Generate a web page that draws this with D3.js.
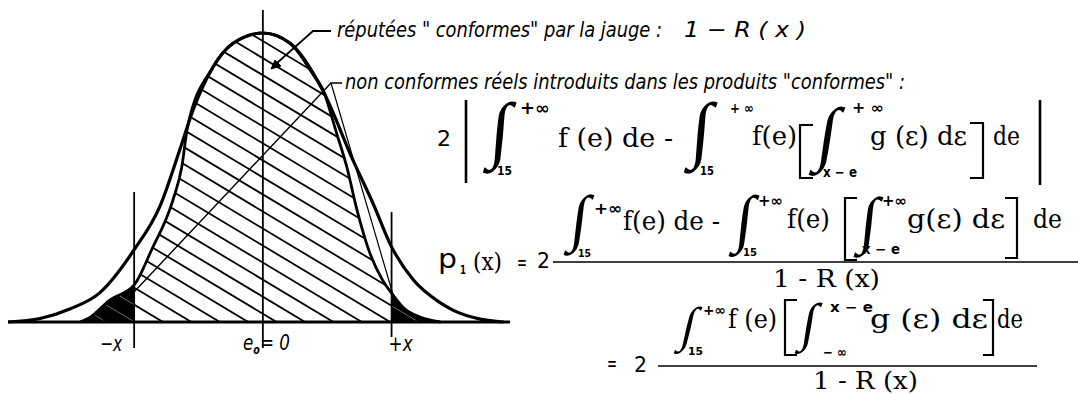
<!DOCTYPE html>
<html>
<head>
<meta charset="utf-8">
<script src="https://cdn.jsdelivr.net/npm/d3@7"></script>
<style>
  html, body { margin: 0; padding: 0; background: #fff; }
  svg { display: block; }
</style>
</head>
<body>
<svg id="fig" width="1078" height="394"></svg>
<script>
// Distribution of all parts f(e): error e (in units of the gauge limit x) and relative density
const outerE = [-1.98, -1.73, -1.5, -1.27, -1.0, -0.8, -0.646, -0.545, -0.39, -0.23, 0, 0.21, 0.467, 0.70, 0.856, 1.0, 1.17, 1.38, 1.48, 1.69, 1.87];
const outerF = [0, 0.012, 0.045, 0.10, 0.25, 0.40, 0.595, 0.73, 0.88, 0.965, 1.0, 0.965, 0.80, 0.56, 0.41, 0.26, 0.145, 0.066, 0.04, 0.01, 0];

// Parts declared "conformes" by the gauge
const innerE = [-1.42, -1.35, -1.19, -1.0, -0.864, -0.70, -0.63, -0.585, -0.39, -0.23, 0, 0.21, 0.40, 0.46, 0.575, 0.65, 0.73, 0.83, 0.93, 1.0, 1.09, 1.22, 1.38];
const innerF = [0, 0.014, 0.076, 0.128, 0.25, 0.42, 0.536, 0.675, 0.88, 0.965, 1.0, 0.965, 0.85, 0.81, 0.65, 0.54, 0.39, 0.24, 0.145, 0.10, 0.05, 0.017, 0];

// Gauge limits and centre
const limits = [-1, 0, 1];
const limitLabels = ["−x", "e", "+x"];

const svg = d3.select("#fig");
const defs = svg.append("defs");

const x = d3.scaleLinear().domain([-1.98, 1.92]).range([8, 510]);
const y = d3.scaleLinear().domain([0, 1]).range([322, 33]);

const outer = outerE.map((e, i) => ({ e, f: outerF[i] }));
const inner = innerE.map((e, i) => ({ e, f: innerF[i] }));

const line = d3.line().x(d => x(d.e)).y(d => y(d.f)).curve(d3.curveMonotoneX);
const area = d3.area().x(d => x(d.e)).y0(y(0)).y1(d => y(d.f)).curve(d3.curveMonotoneX);

// clip regions
defs.append("clipPath").attr("id", "acc").append("path").attr("d", area(inner));
defs.append("clipPath").attr("id", "mid").append("rect")
  .attr("x", x(-1)).attr("y", 0).attr("width", x(1) - x(-1)).attr("height", 400);
const tails = defs.append("clipPath").attr("id", "tails");
tails.append("rect").attr("x", 0).attr("y", 0).attr("width", x(-1)).attr("height", 400);
tails.append("rect").attr("x", x(1)).attr("y", 0).attr("width", 600).attr("height", 400);

// hatch line generator (slope ~0.6, spacing along the baseline)
function hatch(g, stroke, width, opacity) {
  for (let k = -20; k <= 30; k++) {
    const xb = 163 + 28.4 * k;
    g.append("line")
      .attr("x1", xb - 500).attr("y1", y(0) - 300)
      .attr("x2", xb + 100).attr("y2", y(0) + 60)
      .attr("stroke", stroke).attr("stroke-width", width).attr("opacity", opacity);
  }
}

// black tails (non conformes accepted)
const gt = svg.append("g").attr("clip-path", "url(#tails)");
gt.append("path").attr("d", area(inner)).attr("fill", "#000");
hatch(gt.append("g").attr("clip-path", "url(#acc)"), "#fff", 0.8, 0.55);

// hatched accepted region between the limits
const gh = svg.append("g").attr("clip-path", "url(#mid)").append("g").attr("clip-path", "url(#acc)");
hatch(gh, "#000", 1.8, 1);

// baseline
svg.append("line")
  .attr("x1", x.range()[0]).attr("x2", x.range()[1])
  .attr("y1", y(0)).attr("y2", y(0))
  .attr("stroke", "#000").attr("stroke-width", 3);

// curves
svg.append("path").attr("d", line(outer)).attr("fill", "none").attr("stroke", "#000").attr("stroke-width", 3.2);
svg.append("path").attr("d", line(inner)).attr("fill", "none").attr("stroke", "#000").attr("stroke-width", 2.8);

// limit lines
const vTop = [192, 10, 212], vBot = [348, 348, 337];
limits.forEach((e, i) => {
  svg.append("line")
    .attr("x1", x(e)).attr("x2", x(e)).attr("y1", vTop[i]).attr("y2", vBot[i])
    .attr("stroke", "#000").attr("stroke-width", 1.8);
});

// text helper
function put(g, t, x0, yb, w, size, family, weight, style) {
  const el = g.append("text").attr("x", x0).attr("y", yb).text(t)
    .attr("font-size", size).attr("font-family", family)
    .attr("font-weight", weight || "normal").attr("font-style", style || "normal");
  if (w) el.attr("textLength", w).attr("lengthAdjust", "spacingAndGlyphs");
  return el;
}

const ITAL = "'Liberation Sans Narrow', 'DejaVu Sans Condensed', 'DejaVu Sans', sans-serif";
const lab = svg.append("g").attr("fill", "#000");
put(lab, limitLabels[0], x(-1) - 34, 351, 22, 21, ITAL, "normal", "italic");
const t0 = lab.append("text").attr("x", 243).attr("y", 350)
  .attr("font-family", ITAL).attr("font-style", "italic").attr("font-size", 21)
  .attr("textLength", 47).attr("lengthAdjust", "spacingAndGlyphs");
t0.append("tspan").text(limitLabels[1]);
t0.append("tspan").attr("font-size", 12).attr("font-weight", "bold").attr("dy", 4).text("o");
t0.append("tspan").attr("dy", -4).text("= 0");
put(lab, limitLabels[2], x(1) - 3, 351, 24, 21, ITAL, "normal", "italic");

// leaders
const ld = svg.append("g").attr("fill", "none").attr("stroke", "#000");
ld.append("polyline").attr("points", "331,31 313,31 277,63").attr("stroke-width", 1.8);
ld.append("path").attr("d", "M271,69 L281,66 L275,60 Z").attr("fill", "#000").attr("stroke-width", 1);
ld.append("polyline").attr("points", "342,83 331,83 134,292").attr("stroke-width", 1.4);
ld.append("line").attr("x1", 331).attr("y1", 83).attr("x2", 394).attr("y2", 298).attr("stroke-width", 1.2);

const ann = svg.append("g").attr("fill", "#000");
put(ann, 'réputées " conformes" par la jauge :', 337, 37, 325, 21, ITAL, "normal", "italic");
put(ann, "1 − R ( x )", 684, 37, 122, 21, ITAL, "normal", "italic");
put(ann, 'non conformes réels introduits dans les produits "conformes" :', 345, 89, 560, 22, ITAL, "normal", "italic");

// formulas
const SERIF = "'DejaVu Serif', serif", SANS = "'DejaVu Sans', sans-serif";
const INTF = "'Liberation Serif', 'DejaVu Serif', serif";
const fm = svg.append("g").attr("fill", "#000");

// ink extents of a glyph, used to fit the integral sign into its box
const ctx = document.createElement("canvas").getContext("2d");
function ink(str, font) {
  ctx.font = font;
  const m = ctx.measureText(str);
  return { l: -m.actualBoundingBoxLeft, r: m.actualBoundingBoxRight,
           t: -m.actualBoundingBoxAscent, b: m.actualBoundingBoxDescent };
}
const intInk = ink("∫", `100px ${INTF}`);

// integral sign: uniform scale to the box height, slanted to fill the box width
function integral(x0, y0, x1, y1) {
  const s = (y1 - y0) / (intInk.b - intInk.t);
  const w = (intInk.r - intInk.l) * s;
  const k = Math.max(0, ((x1 - x0) - w) / (y1 - y0));
  const left = intInk.l * s - k * intInk.b * s;
  const ang = -Math.atan(k) * 180 / Math.PI;
  fm.append("text").text("∫").attr("font-family", INTF).attr("font-size", 100)
    .attr("transform", `translate(${x0 - left},${y0 - intInk.t * s}) skewX(${ang}) scale(${s})`);
}
function bracket(x0, x1, y0, y1, left) {
  const xs = left ? x0 : x1, xe = left ? x1 : x0;
  fm.append("path").attr("d", `M${xe},${y0} L${xs},${y0} L${xs},${y1} L${xe},${y1}`)
    .attr("fill", "none").attr("stroke", "#000").attr("stroke-width", 2.2);
}
function vbar(xx, y0, y1) {
  fm.append("line").attr("x1", xx).attr("x2", xx).attr("y1", y0).attr("y2", y1)
    .attr("stroke", "#000").attr("stroke-width", 2.6);
}
function hbar(x0, x1, yy) {
  fm.append("line").attr("x1", x0).attr("x2", x1).attr("y1", yy).attr("y2", yy)
    .attr("stroke", "#000").attr("stroke-width", 1.6);
}

// row 1 : 2 | ∫ f(e) de - ∫ f(e) [∫ g(ε) dε] de |
put(fm, "2", 437, 146, 14, 22, SANS);
vbar(466, 100, 183);
integral(482, 101, 517, 174);
put(fm, "+∞", 520, 114, 30, 17, SANS, "bold");
put(fm, "15", 497, 175, 15, 12, SANS, "bold");
put(fm, "f (e) de -", 558, 147, 115, 26, SERIF);
integral(683, 101, 718, 174);
put(fm, "+ ∞", 730, 113, 24, 14, SANS, "bold");
put(fm, "15", 700, 175, 14, 12, SANS, "bold");
put(fm, "f(e)", 752, 145, 45, 26, SERIF);
bracket(800, 813, 125, 178, true);
integral(808, 106, 846, 176);
put(fm, "+ ∞", 852, 113, 32, 15, SANS, "bold");
put(fm, "x − e", 823, 177, 34, 14, SANS, "bold");
put(fm, "g (ε) dε", 870, 145, 97, 26, SERIF);
bracket(970, 983, 123, 178, false);
put(fm, "de", 993, 145, 27, 26, SERIF);
vbar(1040, 100, 185);

// row 2 : p1(x) = 2 [ ... ] / (1 - R(x))
put(fm, "p", 438, 268, 19, 27, SANS);
put(fm, "1", 460, 274, 6, 12, SANS, "bold");
put(fm, "(x)", 473, 270, 29, 24, SERIF);
put(fm, "=", 517, 270, 10, 22, SERIF);
put(fm, "2", 537, 268, 13, 22, SANS);
integral(563, 194, 595, 256);
put(fm, "+∞", 594, 214, 28, 16, SANS, "bold");
put(fm, "15", 578, 257, 13, 11, SANS, "bold");
put(fm, "f(e) de -", 623, 230, 97, 26, SERIF);
integral(728, 194, 760, 257);
put(fm, "+∞", 758, 206, 25, 15, SANS, "bold");
put(fm, "15", 743, 256, 14, 11, SANS, "bold");
put(fm, "f(e)", 787, 228, 43, 26, SERIF);
bracket(845, 857, 198, 260, true);
integral(853, 196, 884, 258);
put(fm, "+∞", 882, 206, 25, 15, SANS, "bold");
put(fm, "x − e", 862, 254, 38, 14, SANS, "bold");
put(fm, "g(ε) dε", 907, 228, 98, 26, SERIF);
bracket(1005, 1017, 198, 258, false);
put(fm, "de", 1033, 228, 29, 26, SERIF);
hbar(553, 1078, 262);
put(fm, "1 - R (x)", 773, 287, 107, 24, SERIF);

// row 3 : = 2 ∫ f(e) [∫ g(ε) dε] de / (1 - R(x))
put(fm, "=", 607, 371, 10, 22, SERIF);
put(fm, "2", 634, 372, 13, 22, SANS);
integral(673, 306, 703, 354);
put(fm, "+∞", 703, 315, 23, 14, SANS, "bold");
put(fm, "15", 688, 355, 15, 11, SANS, "bold");
put(fm, "f (e)", 728, 328, 49, 26, SERIF);
bracket(785, 797, 300, 355, true);
integral(794, 302, 823, 354);
put(fm, "x − e", 830, 312, 43, 14, SANS, "bold");
put(fm, "− ∞", 823, 357, 24, 14, SANS, "bold");
put(fm, "g (ε) dε", 870, 328, 118, 26, SERIF);
bracket(983, 993, 300, 355, false);
put(fm, "de", 997, 328, 26, 26, SERIF);
hbar(658, 1037, 366);
put(fm, "1 - R (x)", 813, 389, 105, 24, SERIF);
</script>
</body>
</html>
